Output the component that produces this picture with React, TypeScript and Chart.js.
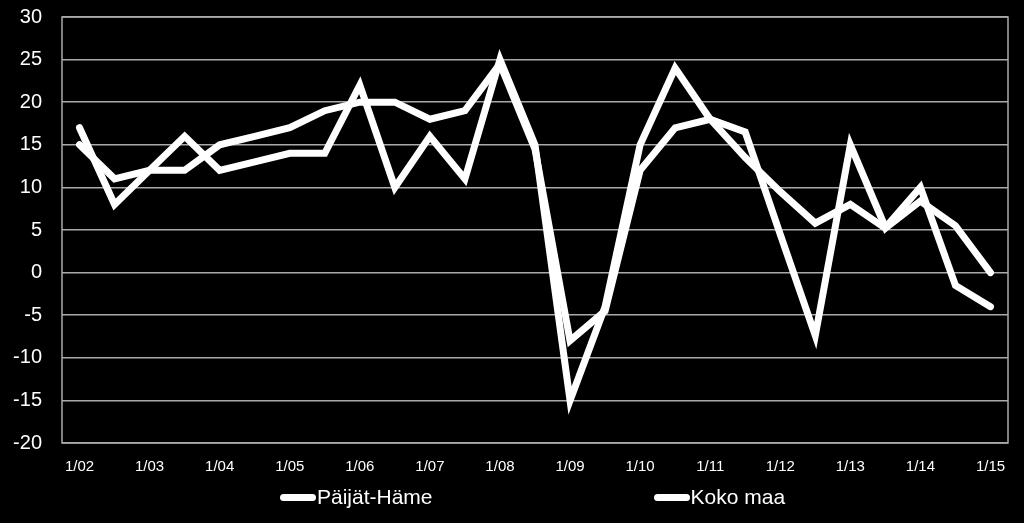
import React, { useEffect, useRef } from 'react';
import { Chart, registerables } from 'chart.js';

Chart.register(...registerables);

// half-year periods, ticks shown only for January
const periods = [
  '1/02', '7/02', '1/03', '7/03', '1/04', '7/04', '1/05', '7/05', '1/06', '7/06',
  '1/07', '7/07', '1/08', '7/08', '1/09', '7/09', '1/10', '7/10', '1/11', '7/11',
  '1/12', '7/12', '1/13', '7/13', '1/14', '7/14', '1/15',
];

const seriesNames = ['Päijät-Häme', 'Koko maa'];

const paijatHame = [
  17, 8, 12, 16, 12, 13, 14, 14, 22, 10,
  16, 11, 25, 15, -15, -4, 15, 24, 18, 16.5,
  4.5, -7.4, 15, 5.3, 10, -1.5, -4,
];

const kokoMaa = [
  15, 11, 12, 12, 15, 16, 17, 19, 20, 20,
  18, 19, 24.5, 14.5, -8, -4.5, 12, 17, 18, 13.5,
  9.5, 5.8, 8, 5.2, 8.4, 5.5, 0,
];

const yMin = -20;
const yMax = 30;
const yStep = 5;

const FONT = "'Liberation Sans', Arial, sans-serif";
const GRID = 'rgb(170,170,170)';

// draws the box round the plot area
const frame = {
  id: 'frame',
  afterDraw(chart: any) {
    const { ctx, chartArea } = chart;
    ctx.save();
    ctx.strokeStyle = GRID;
    ctx.lineWidth = 1.5;
    ctx.strokeRect(chartArea.left, chartArea.top, chartArea.right - chartArea.left, chartArea.bottom - chartArea.top);
    ctx.restore();
  },
};

const App: React.FC = () => {
  const canvasRef = useRef<HTMLCanvasElement | null>(null);
  const chartRef = useRef<Chart | null>(null);

  useEffect(() => {
    document.body.style.margin = '0';
    document.body.style.background = '#000';
    if (!canvasRef.current) return;
    const ctx = canvasRef.current.getContext('2d');
    if (!ctx) return;
    if (chartRef.current) chartRef.current.destroy();

    chartRef.current = new Chart(ctx, {
      type: 'line',
      data: {
        labels: periods,
        datasets: [paijatHame, kokoMaa].map((d, i) => ({
          label: seriesNames[i],
          data: d,
          borderColor: '#ffffff',
          borderWidth: 7,
          borderCapStyle: 'round' as const,
          pointRadius: 0,
          tension: 0,
        })),
      },
      options: {
        responsive: false,
        animation: false,
        layout: { padding: { left: 0, right: 16, top: 17, bottom: 0 } },
        plugins: { legend: { display: false }, tooltip: { enabled: false } },
        scales: {
          x: {
            type: 'category',
            offset: true,
            grid: { display: false, drawTicks: false, tickLength: 0 },
            border: { display: false },
            ticks: {
              autoSkip: false,
              maxRotation: 0,
              padding: 15,
              color: '#ffffff',
              font: { family: FONT, size: 15 },
              callback: (_v: any, i: number) => (periods[i].startsWith('1/') ? periods[i] : ''),
            },
            afterFit: (s: any) => { s.height = 80; },
          },
          y: {
            min: yMin,
            max: yMax,
            ticks: {
              stepSize: yStep,
              padding: 20,
              color: '#ffffff',
              font: { family: FONT, size: 20 },
            },
            grid: { color: GRID, lineWidth: 1.5, drawTicks: false, tickLength: 0 },
            border: { display: false },
            afterFit: (s: any) => {
              s.width = 62;
              s.paddingTop = 0;
              s.paddingBottom = 0;
            },
          },
        },
      },
      plugins: [frame],
    });

    return () => {
      if (chartRef.current) {
        chartRef.current.destroy();
        chartRef.current = null;
      }
    };
  }, []);

  return (
    <div style={{ position: 'relative', width: 1024, height: 523, background: '#000' }}>
      <canvas ref={canvasRef} width={1024} height={523} />
      <div
        style={{
          position: 'absolute',
          left: 280,
          top: 483,
          display: 'flex',
          gap: 221,
          fontFamily: FONT,
          fontSize: 21,
          color: '#fff',
          lineHeight: '28px',
        }}
      >
        {seriesNames.map((n) => (
          <div key={n} style={{ display: 'flex', alignItems: 'center' }}>
            <span style={{ display: 'inline-block', width: 36, height: 7, borderRadius: 4, background: '#fff', marginRight: 1 }} />
            <span>{n}</span>
          </div>
        ))}
      </div>
    </div>
  );
};

export default App;
